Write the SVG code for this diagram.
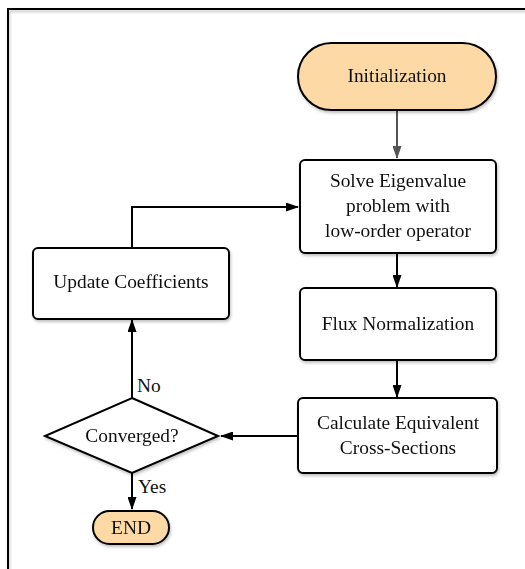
<svg xmlns="http://www.w3.org/2000/svg" width="525" height="569" viewBox="0 0 525 569">
<defs>
<filter id="sh" x="-20%" y="-20%" width="140%" height="140%">
<feGaussianBlur in="SourceAlpha" stdDeviation="1.5"/>
<feOffset dx="1" dy="2" result="b"/>
<feComponentTransfer><feFuncA type="linear" slope="0.25"/></feComponentTransfer>
<feMerge><feMergeNode/><feMergeNode in="SourceGraphic"/></feMerge>
</filter>
<marker id="ah" viewBox="0 0 13 9" refX="12" refY="4.5" markerWidth="13" markerHeight="9" markerUnits="userSpaceOnUse" orient="auto">
<path d="M0,0 L13,4.5 L0,9 z" fill="#000"/>
</marker>
<marker id="ahg" viewBox="0 0 13 9" refX="12" refY="4.5" markerWidth="13" markerHeight="9" markerUnits="userSpaceOnUse" orient="auto">
<path d="M0,0 L13,4.5 L0,9 z" fill="#555"/>
</marker>
</defs>
<style>
.box{fill:#fff;stroke:#000;stroke-width:2}
.term{fill:#fdd9a6;stroke:#000;stroke-width:2}
.t{font-family:"Liberation Serif",serif;font-size:19.4px;fill:#111;text-anchor:middle}
.lbl{font-family:"Liberation Serif",serif;font-size:19.4px;fill:#111}
.c{fill:none;stroke:#000;stroke-width:2;marker-end:url(#ah)}
.cg{fill:none;stroke:#555;stroke-width:2;marker-end:url(#ahg)}
</style>
<rect x="0" y="0" width="525" height="569" fill="#fff"/>
<rect x="8" y="9" width="530" height="575" fill="none" stroke="#000" stroke-width="2" filter="url(#sh)"/>
<g id="connectors">
<path class="cg" d="M397,110 L397,158"/>
<path class="c" d="M397,253 L397,287"/>
<path class="c" d="M397,360 L397,397"/>
<path class="c" d="M298,436 L221,436"/>
<path class="c" d="M132,398 L132,320"/>
<path class="c" d="M132,319 L132,207 L298,207"/>
<path class="c" d="M132,473 L132,509"/>
<text class="lbl" x="137" y="392">No</text>
<text class="lbl" x="138" y="493">Yes</text>
</g>
<g id="init" filter="url(#sh)">
<rect class="term" x="298" y="43" width="198" height="67" rx="33.5"/>
<text class="t" x="397" y="82">Initialization</text>
</g>
<g id="solve" filter="url(#sh)">
<rect class="box" x="300" y="160" width="196" height="93" rx="5"/>
<text class="t" x="398" y="187">Solve Eigenvalue</text>
<text class="t" x="398" y="212">problem with</text>
<text class="t" x="398" y="237">low-order operator</text>
</g>
<g id="update" filter="url(#sh)">
<rect class="box" x="33" y="248" width="196" height="71" rx="5"/>
<text class="t" x="131" y="288">Update Coefficients</text>
</g>
<g id="flux" filter="url(#sh)">
<rect class="box" x="300" y="288" width="196" height="72" rx="5"/>
<text class="t" x="398" y="330">Flux Normalization</text>
</g>
<g id="calc" filter="url(#sh)">
<rect class="box" x="298" y="398" width="199" height="75" rx="5"/>
<text class="t" x="398" y="429">Calculate Equivalent</text>
<text class="t" x="398" y="454">Cross-Sections</text>
</g>
<g id="converged" filter="url(#sh)">
<polygon class="box" points="132,398 218,436 132,473 45,436"/>
<text class="t" x="132" y="442">Converged?</text>
</g>
<g id="end" filter="url(#sh)">
<rect class="term" x="93" y="511" width="76" height="33" rx="16.5"/>
<text class="t" x="131" y="534">END</text>
</g>
</svg>
